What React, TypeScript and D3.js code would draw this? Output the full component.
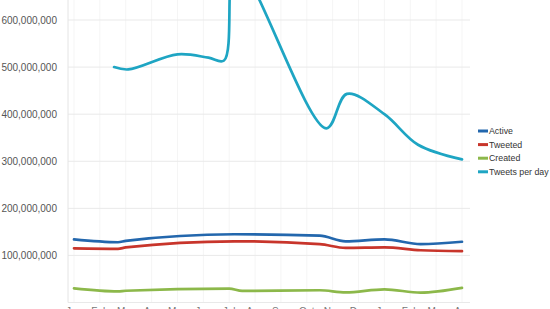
import React from "react";
import * as d3 from "d3";

const monthLabels = ["Jan", "Feb", "Mar", "Apr", "May", "Jun", "Jul", "Aug", "Sep", "Oct", "Nov", "Dec", "Jan", "Feb", "Mar", "Apr"];
const yTicks = [100e6, 200e6, 300e6, 400e6, 500e6, 600e6];

const lowX = [0, 1.7, 2.0, 6.2, 9.5, 10.5, 12, 13.4, 15];
const activeVals = [134e6, 128e6, 131e6, 145e6, 142e6, 130e6, 134e6, 124e6, 129e6];
const tweetedVals = [115e6, 114e6, 117e6, 130e6, 124e6, 116e6, 117e6, 111e6, 109e6];

const createdX = [0, 1.7, 2.0, 6.0, 6.5, 9.5, 10.5, 12, 13.4, 15];
const createdVals = [30e6, 23.5e6, 25e6, 29.5e6, 24.5e6, 26e6, 21.5e6, 28e6, 21e6, 31e6];

const tweetsX = [1.55, 2.1, 4.0, 5.2, 5.8, 6.25, 9.75, 10.55, 12.0, 13.3, 15];
const tweetsVals = [500e6, 495e6, 527e6, 520e6, 514e6, 720e6, 370e6, 443e6, 400e6, 335e6, 304e6];

const seriesNames = ["Active", "Tweeted", "Created", "Tweets per day"];
const seriesColors = ["#2367ad", "#c8352b", "#8cb84a", "#1ea5c3"];

export default function App() {
  const W = 550, H = 309;
  const x = d3.scaleLinear().domain([0, 15]).range([74, 462]);
  const y = d3.scaleLinear().domain([0, 600e6]).range([302.5, 20]);
  const left = 68, right = 470;

  const smooth = d3.line<[number, number]>().x(d => x(d[0])).y(d => y(d[1])).curve(d3.curveMonotoneX);
  const spline = d3.line<[number, number]>().x(d => x(d[0])).y(d => y(d[1])).curve(d3.curveCatmullRom.alpha(0.5));

  const zip = (xs: number[], vs: number[]) => xs.map((v, i) => [v, vs[i]] as [number, number]);
  const paths = [
    smooth(zip(lowX, activeVals)),
    smooth(zip(lowX, tweetedVals)),
    smooth(zip(createdX, createdVals)),
    spline(zip(tweetsX, tweetsVals)),
  ];

  return (
    <svg width={W} height={H} style={{ position: "absolute", left: 0, top: 0, display: "block", background: "#fff" }}
      fontFamily="Liberation Sans, Arial, sans-serif">
      {d3.range(16).map(i => (
        <line key={"v" + i} x1={x(i)} x2={x(i)} y1={0} y2={y(0)} stroke="#f5f5f5" strokeWidth={1} />
      ))}
      {yTicks.map(t => (
        <line key={"g" + t} x1={left} x2={right} y1={y(t)} y2={y(t)} stroke="#e9e9e9" strokeWidth={1} />
      ))}
      <line x1={left} x2={right} y1={y(0)} y2={y(0)} stroke="#e9e9e9" strokeWidth={1} />
      <line x1={left} x2={left} y1={0} y2={y(0)} stroke="#e4e4e4" strokeWidth={1} />
      {yTicks.map(t => (
        <text key={"t" + t} x={57} y={y(t)} dy="0.35em" textAnchor="end" fontSize={10} fill="#555">
          {d3.format(",")(t)}
        </text>
      ))}
      {monthLabels.map((m, i) => (
        <text key={"m" + i} x={x(i)} y={315} textAnchor="middle" fontSize={10} fill="#777">{m}</text>
      ))}
      {paths.map((p, i) => (
        <path key={"p" + i} d={p || ""} fill="none" stroke={seriesColors[i]} strokeWidth={2.7} strokeLinejoin="round" strokeLinecap="round" />
      ))}
      {seriesNames.map((n, i) => (
        <g key={"l" + i} transform={`translate(478, ${131 + i * 13.6})`}>
          <line x1={0} x2={10} y1={0} y2={0} stroke={seriesColors[i]} strokeWidth={3} />
          <text x={11} y={0} dy="0.35em" fontSize={8.8} fill="#333">{n}</text>
        </g>
      ))}
    </svg>
  );
}
